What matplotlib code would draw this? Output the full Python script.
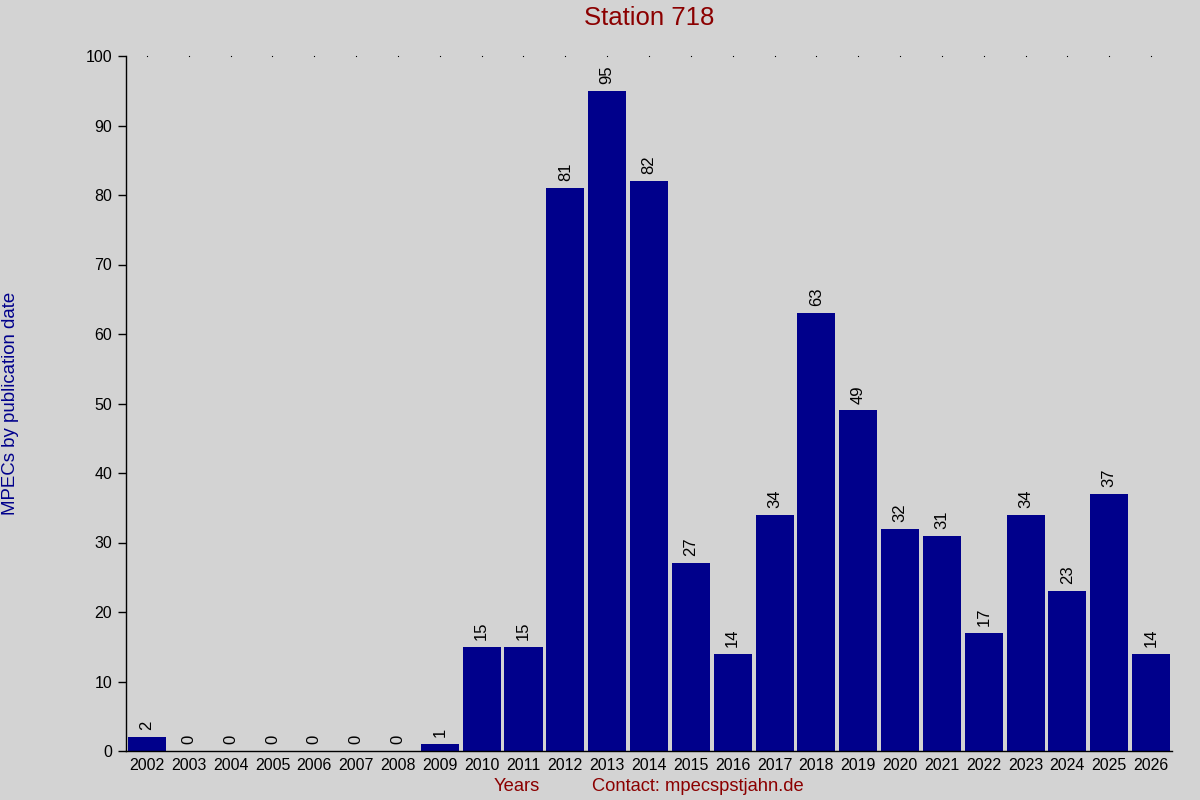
import matplotlib.pyplot as plt
import numpy as np

plt.rcParams['font.family'] = ['Liberation Sans', 'DejaVu Sans']

# data
years = [str(y) for y in range(2002, 2027)]
counts = [2, 0, 0, 0, 0, 0, 0, 1, 15, 15, 81, 95, 82, 27, 14, 34,
          63, 49, 32, 31, 17, 34, 23, 37, 14]
yticks = list(range(0, 101, 10))

bg = '#d3d3d3'
bar_color = '#00008b'
red = '#8b0000'

fig = plt.figure(figsize=(12, 8), dpi=100, facecolor=bg)
ax = fig.add_axes([0.105, 0.06125, 0.8717, 0.86875], facecolor=bg)

x = np.arange(len(years))
ax.bar(x, counts, width=0.91, color=bar_color)

for xi, c in zip(x, counts):
    ax.annotate(str(c), (xi, c), xytext=(0, 5), textcoords='offset points',
                rotation=90, ha='center', va='bottom', fontsize=12)

# little dots along the top edge
ax.plot(x, [100] * len(x), linestyle='none', marker='s', markersize=0.8,
        markeredgewidth=0, color='black', clip_on=False)

ax.set_xlim(-0.5, len(years) - 0.5)
ax.set_ylim(0, 100)
ax.set_yticks(yticks)
ax.set_xticks(x)
ax.set_xticklabels(years)
ax.tick_params(axis='y', direction='out', length=6, width=1, labelsize=11.5, pad=4)
ax.tick_params(axis='x', length=0, labelsize=11.5, pad=5)

for s in ['top', 'right']:
    ax.spines[s].set_visible(False)
ax.spines['left'].set_linewidth(1)
ax.spines['bottom'].set_linewidth(1)

fig.text(0.541, 0.978, 'Station 718', color=red, fontsize=18.5,
         ha='center', va='center')
fig.text(0.009, 0.496, 'MPECs by publication date', color=bar_color,
         fontsize=13.4, rotation=90, ha='center', va='center')
fig.text(0.431, 0.017, 'Years', color=red, fontsize=13.2, ha='center', va='center')
fig.text(0.5815, 0.017, 'Contact: mpecspstjahn.de', color=red, fontsize=13.2,
         ha='center', va='center')

plt.savefig('out.png', dpi=100, facecolor=bg)
